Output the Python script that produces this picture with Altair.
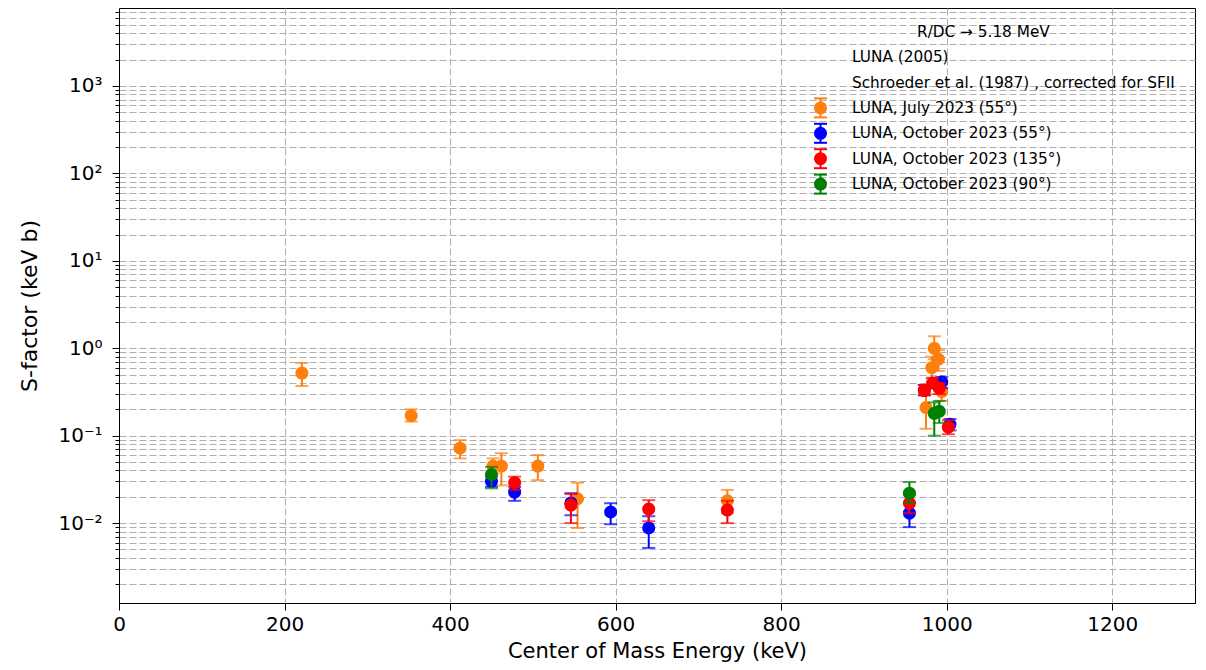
import altair as alt
import pandas as pd

# ---------------- data ----------------
series_names = ["LUNA, July 2023 (55°)", "LUNA, October 2023 (55°)",
                "LUNA, October 2023 (135°)", "LUNA, October 2023 (90°)"]
series_colors = ["#ff7f0e", "#0000ff", "#ff0000", "#008000"]

july_E = [221, 353, 412, 452, 462, 506, 554, 735, 975, 982, 985, 990, 994]
july_S = [0.52, 0.17, 0.072, 0.045, 0.045, 0.045, 0.019, 0.018, 0.21, 0.60, 1.0, 0.75, 0.32]
july_lo = [0.37, 0.145, 0.055, 0.037, 0.027, 0.031, 0.0088, 0.013, 0.12, 0.45, 0.75, 0.55, 0.25]
july_hi = [0.68, 0.20, 0.089, 0.055, 0.063, 0.060, 0.029, 0.024, 0.30, 0.80, 1.37, 0.95, 0.40]

oct55_E = [450, 478, 546, 594, 640, 955, 973, 994, 1004]
oct55_S = [0.030, 0.0226, 0.017, 0.0134, 0.0088, 0.013, 0.33, 0.41, 0.135]
oct55_lo = [0.026, 0.018, 0.0123, 0.0097, 0.0052, 0.009, 0.29, 0.35, 0.115]
oct55_hi = [0.034, 0.026, 0.022, 0.0169, 0.012, 0.017, 0.38, 0.47, 0.155]

oct135_E = [478, 546, 640, 735, 955, 973, 983, 991, 1002]
oct135_S = [0.029, 0.0161, 0.0145, 0.0141, 0.0169, 0.33, 0.40, 0.35, 0.125]
oct135_lo = [0.024, 0.010, 0.0105, 0.0100, 0.013, 0.29, 0.35, 0.30, 0.104]
oct135_hi = [0.034, 0.0215, 0.0183, 0.0180, 0.021, 0.38, 0.46, 0.40, 0.15]

oct90_E = [450, 955, 985, 991]
oct90_S = [0.036, 0.022, 0.18, 0.19]
oct90_lo = [0.025, 0.017, 0.10, 0.14]
oct90_hi = [0.044, 0.0295, 0.24, 0.25]

extra_legend = ["R/DC \u2192 5.18 MeV", "LUNA (2005)",
                "Schroeder et al. (1987) , corrected for SFII"]

x_ticks = [0, 200, 400, 600, 800, 1000, 1200]
x_domain = [0, 1300]
y_domain = [0.00122, 7800]

# ---------------- build tables ----------------
all_series = [
    (july_E, july_S, july_lo, july_hi),
    (oct55_E, oct55_S, oct55_lo, oct55_hi),
    (oct135_E, oct135_S, oct135_lo, oct135_hi),
    (oct90_E, oct90_S, oct90_lo, oct90_hi),
]

FONT = "DejaVu Sans"
W, H = 1076, 595
MSIZE = 170

x_scale = alt.Scale(domain=x_domain, nice=False, zero=False)
y_scale = alt.Scale(type="log", domain=y_domain, nice=False)

# y ticks: majors + minors
y_vals = []
for k in range(-3, 4):
    for m in range(1, 10):
        v = m * 10 ** k
        if y_domain[0] <= v <= y_domain[1]:
            y_vals.append(float(f"{v:.10g}"))

sup = {-3: "10\u207b\u00b3", -2: "10\u207b\u00b2", -1: "10\u207b\u00b9", 0: "10\u2070",
       1: "10\u00b9", 2: "10\u00b2", 3: "10\u00b3"}
is_major = "abs(log(datum.value)/LN10 - round(log(datum.value)/LN10)) < 1e-6"
lab = "''"
for e, s in sup.items():
    lab = f"(round(log(datum.value)/LN10) == {e} ? '{s}' : {lab})"
label_expr = f"({is_major}) ? {lab} : ''"

x_axis = alt.Axis(values=x_ticks, title="Center of Mass Energy (keV)", grid=True,
                  gridDash=[7, 3], gridColor="#b0b0b0", gridWidth=1,
                  labelFontSize=20, titleFontSize=21, labelFont=FONT, titleFont=FONT,
                  labelColor="black", titleColor="black", tickColor="black",
                  domainColor="black", tickSize=7, labelPadding=4, titlePadding=6,
                  labelFlush=False, format="d", titleFontWeight="normal")
y_axis = alt.Axis(values=y_vals, title="S-factor (keV b)", grid=True,
                  gridDash=[7, 3], gridColor="#b0b0b0", gridWidth=1,
                  labelExpr=label_expr, labelOverlap=False, labelFlush=False,
                  labelFontSize=20, titleFontSize=22, labelFont=FONT, titleFont=FONT,
                  labelColor="black", titleColor="black", tickColor="black",
                  domainColor="black",
                  tickSize={"condition": {"test": is_major, "value": 7}, "value": 4},
                  labelPadding=10, titlePadding=16, titleFontWeight="normal")

layers = []
for i, (E, S, lo, hi) in enumerate(all_series):
    df = pd.DataFrame({"E": E, "S": S, "lo": lo, "hi": hi, "series": series_names[i]})
    col = series_colors[i]
    base = alt.Chart(df)
    X = alt.X("E:Q", scale=x_scale, axis=x_axis)
    rule = base.mark_rule(color=col, strokeWidth=2).encode(
        x=X, y=alt.Y("lo:Q", scale=y_scale, axis=y_axis), y2="hi:Q")
    cap_lo = base.mark_tick(color=col, orient="horizontal", size=13, thickness=2).encode(
        x=X, y=alt.Y("lo:Q", scale=y_scale, axis=y_axis))
    cap_hi = base.mark_tick(color=col, orient="horizontal", size=13, thickness=2).encode(
        x=X, y=alt.Y("hi:Q", scale=y_scale, axis=y_axis))
    pts = base.mark_circle(color=col, size=MSIZE, opacity=1).encode(
        x=X, y=alt.Y("S:Q", scale=y_scale, axis=y_axis))
    layers += [rule, cap_lo, cap_hi, pts]

# ---------------- legend (drawn inside the plot, top right) ----------------
row_y0, row_dy = 23.7, 25.4
text_x, marker_x, first_x = 733, 701.5, 798
LFS = 15.3
dummy = pd.DataFrame({"a": [0]})
for j, t in enumerate(extra_legend):
    layers.append(alt.Chart(dummy).mark_text(
        text=t, align="left", baseline="middle", font=FONT, fontSize=LFS, color="black").encode(
        x=alt.value(first_x if j == 0 else text_x), y=alt.value(row_y0 + j * row_dy)))
for i, name in enumerate(series_names):
    yy = row_y0 + (i + 3) * row_dy
    col = series_colors[i]
    layers.append(alt.Chart(dummy).mark_rule(color=col, strokeWidth=2).encode(
        x=alt.value(marker_x), y=alt.value(yy - 9.5), y2=alt.value(yy + 9.5)))
    layers.append(alt.Chart(dummy).mark_rule(color=col, strokeWidth=2).encode(
        x=alt.value(marker_x - 6.5), x2=alt.value(marker_x + 6.5), y=alt.value(yy - 9.5)))
    layers.append(alt.Chart(dummy).mark_rule(color=col, strokeWidth=2).encode(
        x=alt.value(marker_x - 6.5), x2=alt.value(marker_x + 6.5), y=alt.value(yy + 9.5)))
    layers.append(alt.Chart(dummy).mark_circle(color=col, size=MSIZE, opacity=1).encode(
        x=alt.value(marker_x), y=alt.value(yy)))
    layers.append(alt.Chart(dummy).mark_text(
        text=name, align="left", baseline="middle", font=FONT, fontSize=LFS, color="black").encode(
        x=alt.value(text_x), y=alt.value(yy)))

chart = alt.layer(*layers).properties(
    width=W, height=H,
    autosize=alt.AutoSizeParams(type="none"),
    padding={"left": 119, "top": 8, "right": 11, "bottom": 67},
    background="white",
).configure_view(stroke="black", strokeWidth=1)

chart.save("out.html", embed_options={"renderer": "svg", "actions": False})
